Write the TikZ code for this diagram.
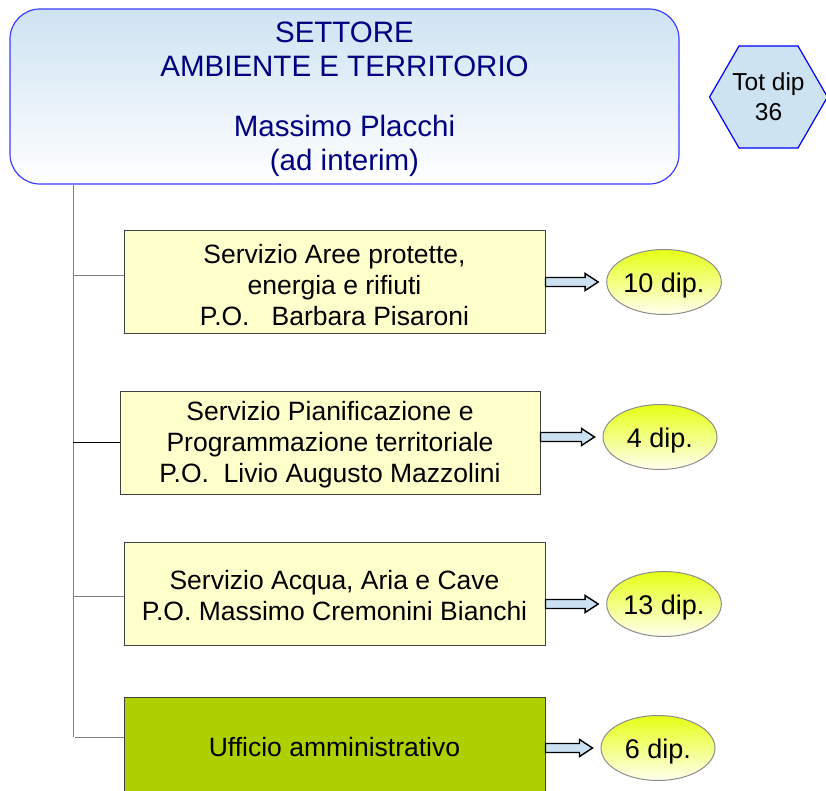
\documentclass[tikz,border=0pt]{standalone}
\usepackage{fontspec}
\setmainfont{Liberation Sans}
\usepackage{xcolor}
\usetikzlibrary{shapes.geometric,calc}
\definecolor{settblue}{RGB}{206,227,242}
\definecolor{settline}{RGB}{60,60,255}
\definecolor{settnavy}{RGB}{0,0,128}
\definecolor{servyellow}{RGB}{255,255,204}
\definecolor{uffgreen}{RGB}{174,207,0}
\definecolor{diptop}{RGB}{230,255,20}
\definecolor{dipbottom}{RGB}{255,255,240}
\definecolor{arrowblue}{RGB}{204,226,242}
\newcommand{\toprule}[1]{\rule{0pt}{#1}}
\newcommand{\fatarrow}[2]{%
\draw[fat arrow] let \p1=(#1.east), \p2=(#2.west) in
  (\x1,\y2+4.5pt) -- (\x2-21pt,\y2+4.5pt) -- (\x2-21pt,\y2+8.5pt) -- (\x2-8pt,\y2)
  -- (\x2-21pt,\y2-8.5pt) -- (\x2-21pt,\y2-4.5pt) -- (\x1,\y2-4.5pt) -- cycle;}

\begin{document}
\begin{tikzpicture}[
    x=1pt, y=-1pt,
    settore/.style={draw=settline, line width=1.2pt, rounded corners=30pt,
      top color=settblue, bottom color=white, text=settnavy, align=center,
      minimum width=669pt, minimum height=175pt, inner sep=0pt,
      font=\fontsize{29.5}{34}\selectfont},
    totale/.style={regular polygon, regular polygon sides=6, draw=blue, line width=1.2pt,
      fill=settblue, minimum size=115pt, inner sep=0pt, align=center,
      font=\fontsize{24.5}{30}\selectfont},
    servizio/.style={draw=black!75, line width=1pt, fill=servyellow, align=center,
      minimum width=421pt, minimum height=103pt, inner sep=0pt,
      font=\fontsize{26.5}{31}\selectfont},
    ufficio/.style={servizio, fill=uffgreen},
    dip/.style={ellipse, draw=black!45, line width=1pt, top color=diptop, bottom color=dipbottom,
      minimum width=114pt, minimum height=65pt, inner sep=0pt, text height=20pt, text depth=0pt,
      font=\fontsize{27}{30}\selectfont},
    branch/.style={draw=black!50, line width=1pt},
    fat arrow/.style={draw=black, line width=1.4pt, fill=arrowblue, line join=miter}
  ]
\useasboundingbox (0,0) rectangle (826,790);

\node[settore] (sett) at (344.5,96.5) {\toprule{27pt}SETTORE\\AMBIENTE E TERRITORIO\\[26pt]Massimo Placchi\\(ad interim)};
\node[totale] (tot) at (768.5,97) {Tot dip\\36};

\node[servizio] (serv1) at (334.5,282) {\toprule{25pt}Servizio Aree protette,\\energia e rifiuti\\P.O.\ \ \ Barbara Pisaroni};
\node[servizio, minimum width=420pt] (serv2) at (330,442.5) {\toprule{24pt}Servizio Pianificazione e\\Programmazione territoriale\\P.O.\ \ Livio Augusto Mazzolini};
\node[servizio] (serv3) at (334.5,593.5) {\toprule{24pt}Servizio Acqua, Aria e Cave\\P.O. Massimo Cremonini Bianchi};
\node[ufficio, minimum height=100pt] (uff) at (334.5,747) {Ufficio amministrativo};

\node[dip] (dip1) at (664,282) {10 dip.};
\node[dip] (dip2) at (660,437) {4 dip.};
\node[dip] (dip3) at (664,604) {13 dip.};
\node[dip] (dip4) at (658,748) {6 dip.};

% tree
\coordinate (trunk) at (73,737);
\draw[branch] (sett.south -| trunk) -- (trunk);
\draw[branch] ([yshift=7pt]serv1.west) -- ([yshift=7pt]serv1.west -| trunk);
\draw[branch, draw=black] (serv2.west) -- (serv2.west -| trunk);
\draw[branch] ([yshift=-2.5pt]serv3.west) -- ([yshift=-2.5pt]serv3.west -| trunk);
\draw[branch] (trunk -| uff.west) -- ([xshift=2pt]trunk);

\fatarrow{serv1}{dip1}
\fatarrow{serv2}{dip2}
\fatarrow{serv3}{dip3}
\fatarrow{uff}{dip4}
\end{tikzpicture}
\end{document}
